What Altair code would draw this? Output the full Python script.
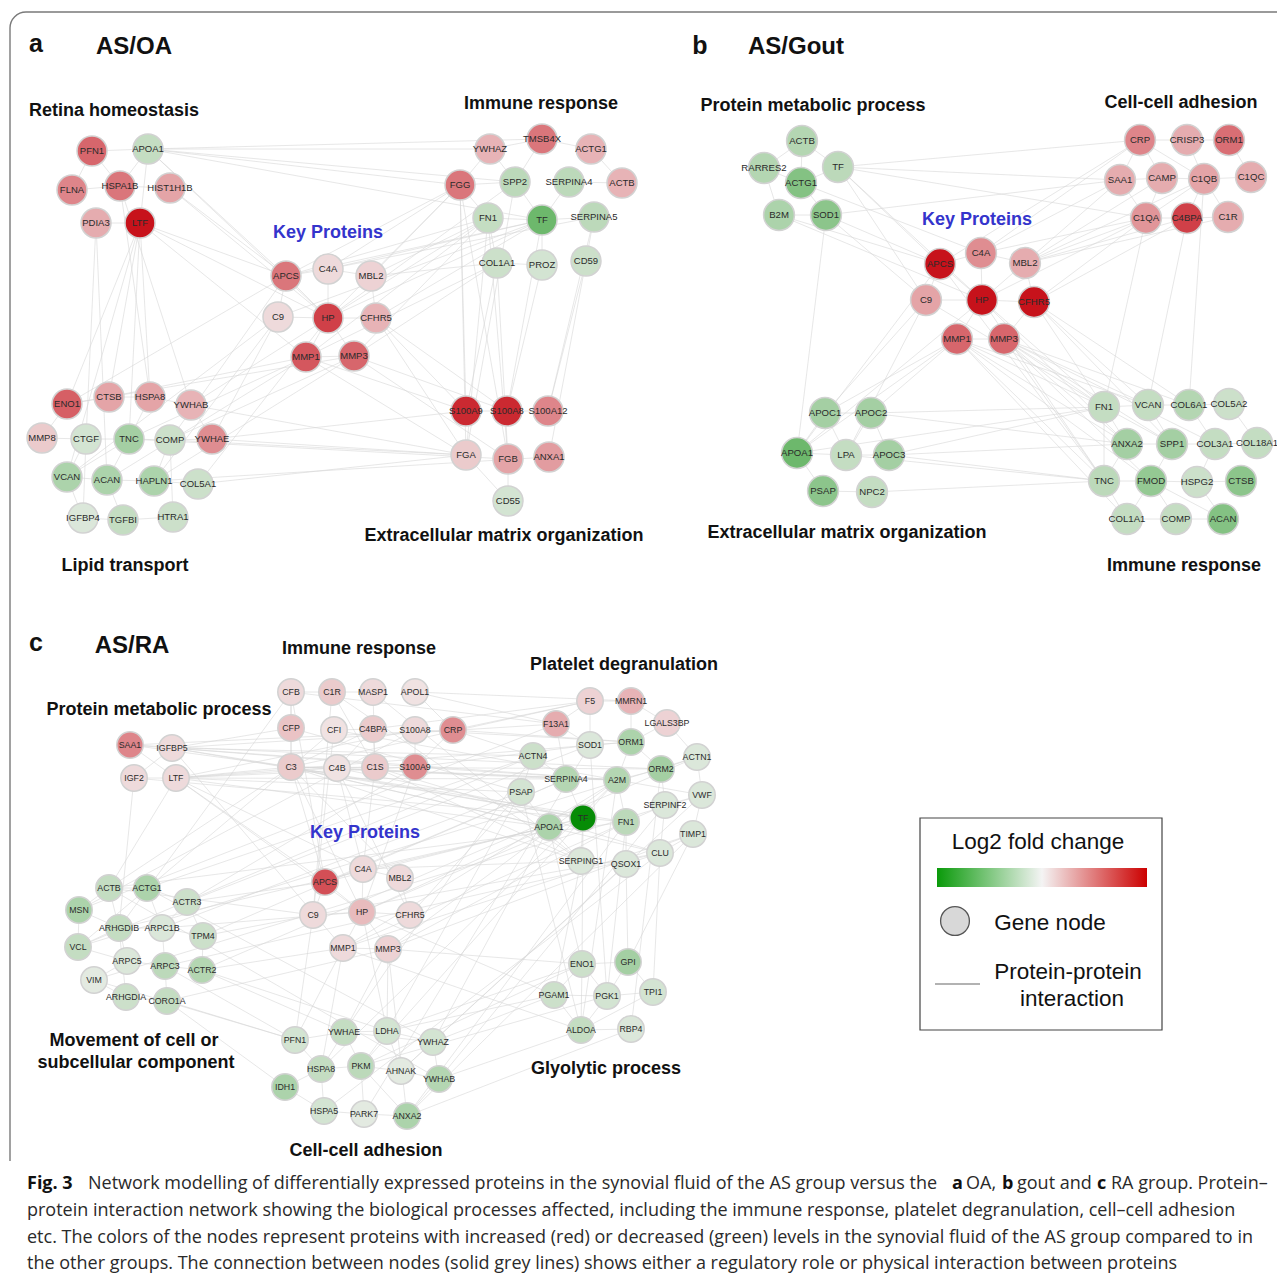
import altair as alt
import pandas as pd

# ---------------- Panel a : AS/OA ----------------
a_names = ["PFN1", "APOA1", "FLNA", "HSPA1B", "HIST1H1B", "PDIA3", "LTF",
           "YWHAZ", "TMSB4X", "ACTG1", "FGG", "SPP2", "SERPINA4", "ACTB", "FN1", "TF", "SERPINA5",
           "COL1A1", "PROZ", "CD59",
           "APCS", "C4A", "MBL2", "C9", "HP", "CFHR5", "MMP1", "MMP3",
           "ENO1", "CTSB", "HSPA8", "YWHAB", "MMP8", "CTGF", "TNC", "COMP", "YWHAE", "VCAN", "ACAN",
           "HAPLN1", "COL5A1", "IGFBP4", "TGFBI", "HTRA1",
           "S100A9", "S100A8", "S100A12", "FGA", "FGB", "ANXA1", "CD55"]
a_x = [92, 148, 72, 120, 170, 96, 140,
       490, 542, 591, 460, 515, 569, 622, 488, 542, 594, 497, 542, 586,
       286, 328, 371, 278, 328, 376, 306, 354,
       67, 109, 150, 191, 42, 86, 129, 170, 212, 67, 107, 154, 198, 83, 123, 173,
       466, 507, 548, 466, 508, 549, 508]
a_y = [151, 149, 190, 186, 188, 223, 223,
       149, 139, 149, 185, 182, 182, 183, 218, 220, 217, 263, 265, 261,
       276, 269, 276, 317, 318, 318, 357, 356,
       404, 397, 397, 405, 438, 439, 439, 440, 439, 477, 480, 481, 484, 518, 520, 517,
       411, 411, 411, 455, 459, 457, 501]
a_fc = [1.8, -0.6, 1.4, 1.6, 1.0, 0.9, 2.9,
        0.8, 1.6, 0.8, 1.6, -0.7, -0.7, 0.8, -0.6, -1.7, -0.7, -0.5, -0.4, -0.5,
        1.6, 0.3, 0.4, 0.3, 2.3, 0.8, 2.0, 1.8,
        1.9, 1.0, 1.0, 0.8, 0.5, -0.4, -1.0, -0.5, 1.3, -0.9, -0.9, -0.9, -0.5, -0.3, -0.6, -0.5,
        2.6, 2.6, 1.4, 0.5, 1.0, 1.1, -0.4]
a_edges = [
    "PFN1-APOA1 PFN1-FLNA FLNA-HSPA1B HSPA1B-HIST1H1B PDIA3-LTF PFN1-HSPA1B APOA1-HSPA1B APOA1-LTF",
    "APOA1-FGG APOA1-YWHAZ APOA1-TF APOA1-SPP2 APOA1-APCS APOA1-HP APOA1-TMSB4X HIST1H1B-APCS HIST1H1B-HP",
    "LTF-ENO1 LTF-CTSB LTF-HSPA8 LTF-TNC LTF-VCAN LTF-APCS LTF-HP LTF-MMP1 PDIA3-CTGF PDIA3-ACAN",
    "HSPA1B-HSPA8 HSPA1B-YWHAB APCS-FGG APCS-FN1 APCS-TF C4A-FGG C4A-TF C4A-SERPINA5 MBL2-FN1 MBL2-FGG",
    "MBL2-COL1A1 HP-FGG HP-TF HP-SPP2 HP-FN1 CFHR5-TF CFHR5-S100A9 CFHR5-FGA CFHR5-S100A8 MMP1-COL1A1",
    "MMP1-FN1 MMP1-S100A9 MMP1-FGA MMP3-FN1 MMP3-S100A8 MMP3-FGB MMP3-COL1A1 C9-TF C9-YWHAE APCS-ENO1",
    "APCS-COMP C9-VCAN C9-HAPLN1 HP-YWHAB MMP1-TNC MMP1-ACAN MMP3-COMP MMP3-HAPLN1 HP-COL5A1 MMP1-CTSB",
    "MMP3-ENO1 YWHAB-FGA YWHAE-FGA COL5A1-FGA COMP-FGA YWHAE-S100A9 HAPLN1-ANXA1 TNC-FGB",
    "FGG-FGA FGG-FGB FGG-S100A9 FN1-FGA FN1-FGB TF-S100A8 COL1A1-S100A9 COL1A1-FGB SERPINA5-S100A12",
    "CD59-ANXA1 PROZ-S100A8 SPP2-FGA CD59-S100A12 FGA-CD55 FGB-CD55 S100A9-S100A8 S100A8-S100A12",
    "YWHAZ-TMSB4X TMSB4X-ACTG1 ACTG1-ACTB FGG-FN1 FN1-TF SPP2-TF TF-SERPINA4 TF-SERPINA5 FN1-COL1A1",
    "COL1A1-PROZ TF-PROZ SERPINA5-CD59 FGG-SPP2 YWHAZ-FGG TMSB4X-SPP2 ACTB-SERPINA4 YWHAZ-SPP2",
    "ENO1-CTSB CTSB-HSPA8 HSPA8-YWHAB YWHAB-YWHAE MMP8-CTGF CTGF-TNC TNC-COMP COMP-YWHAE VCAN-ACAN",
    "ACAN-HAPLN1 HAPLN1-COL5A1 IGFBP4-TGFBI TGFBI-HTRA1 VCAN-TNC ACAN-TGFBI CTGF-IGFBP4 COMP-HAPLN1",
    "ENO1-MMP8 TNC-ACAN CTGF-VCAN HSPA8-TNC COMP-HTRA1 VCAN-IGFBP4",
    "APCS-C4A C4A-MBL2 APCS-C9 C9-HP HP-CFHR5 HP-MMP1 MMP1-MMP3 APCS-HP C4A-HP MBL2-CFHR5 HP-MMP3",
]

# ---------------- Panel b : AS/Gout ----------------
b_names = ["ACTB", "RARRES2", "TF", "ACTG1", "B2M", "SOD1",
           "CRP", "CRISP3", "ORM1", "SAA1", "CAMP", "C1QB", "C1QC", "C1QA", "C4BPA", "C1R",
           "APCS", "C4A", "MBL2", "C9", "HP", "CFHR5", "MMP1", "MMP3",
           "APOC1", "APOC2", "APOA1", "LPA", "APOC3", "PSAP", "NPC2",
           "FN1", "VCAN", "COL6A1", "COL5A2", "ANXA2", "SPP1", "COL3A1", "COL18A1", "TNC", "FMOD",
           "HSPG2", "CTSB", "COL1A1", "COMP", "ACAN"]
b_x = [802, 764, 838, 801, 779, 826,
       1140, 1187, 1229, 1120, 1162, 1204, 1251, 1146, 1187, 1228,
       940, 981, 1025, 926, 982, 1034, 957, 1004,
       825, 871, 797, 846, 889, 823, 872,
       1104, 1148, 1189, 1229, 1127, 1172, 1215, 1257, 1104, 1151, 1197, 1241, 1127, 1176, 1223]
b_y = [141, 168, 167, 183, 215, 215,
       140, 140, 140, 180, 178, 179, 177, 218, 218, 217,
       264, 253, 263, 300, 300, 302, 339, 339,
       413, 413, 453, 455, 455, 491, 492,
       407, 405, 405, 404, 444, 444, 444, 443, 481, 481, 482, 481, 519, 519, 519]
b_fc = [-0.8, -0.8, -0.7, -1.4, -0.9, -1.3,
        1.4, 0.9, 1.7, 0.9, 0.9, 1.0, 0.9, 1.2, 2.3, 0.9,
        2.9, 1.3, 0.9, 1.0, 2.9, 2.9, 1.8, 1.8,
        -1.0, -1.0, -1.7, -0.6, -1.0, -1.3, -0.6,
        -0.6, -0.6, -0.8, -0.5, -1.0, -1.0, -0.6, -0.6, -0.7, -1.2, -0.5, -1.3, -0.6, -0.6, -1.4]
b_edges = [
    "TF-APCS TF-HP TF-C9 SOD1-APCS SOD1-C9 B2M-APCS B2M-HP ACTG1-C4A SOD1-APOA1 ACTB-TF RARRES2-ACTG1",
    "ACTG1-SOD1 B2M-SOD1 ACTB-ACTG1 TF-ACTG1 TF-SAA1 TF-CRP SOD1-SAA1 TF-C1QA RARRES2-ACTB RARRES2-B2M",
    "C4A-SAA1 C4A-C1QA MBL2-C1QA MBL2-CAMP MBL2-C1QB HP-C1QA CFHR5-C4BPA CFHR5-C1QA APCS-CRP HP-SAA1",
    "MBL2-C4BPA C4A-CRP MBL2-C1R MMP1-FN1 MMP1-VCAN MMP1-ANXA2 MMP3-FN1 MMP3-COL6A1 MMP3-TNC MMP3-VCAN",
    "MMP3-SPP1 MMP1-TNC CFHR5-FN1 HP-FN1 MMP3-FMOD MMP1-COL1A1 MMP3-ANXA2 CFHR5-VCAN MMP1-APOC1",
    "MMP1-APOC2 HP-APOA1 APCS-APOA1 C9-APOC1 MMP1-APOA1 C9-LPA APOC2-FN1 APOC3-FN1 APOC3-TNC",
    "APOC3-ANXA2 NPC2-TNC APOA1-FN1 LPA-TNC APOC2-ANXA2 C1QA-FN1 C4BPA-VCAN C1QB-COL6A1",
    "HP-TNC HP-ANXA2 CFHR5-SPP1 CFHR5-COL6A1 MMP1-FMOD MMP3-COL3A1 C9-FN1 APCS-TNC",
    "APOC1-APOC2 APOC1-APOA1 APOA1-LPA LPA-APOC3 APOA1-PSAP PSAP-NPC2 APOC1-LPA APOC2-LPA APOC2-APOC3",
    "CRP-CRISP3 CRISP3-ORM1 SAA1-CAMP CAMP-C1QB C1QB-C1QC C1QA-C4BPA C4BPA-C1R CRP-SAA1 CRP-CAMP",
    "C1QA-C1QB C1QB-C1R C1QB-C4BPA ORM1-C1QC CRP-C1QB CAMP-C1QA CRISP3-C1QB SAA1-C1QA",
    "FN1-VCAN VCAN-COL6A1 COL6A1-COL5A2 ANXA2-SPP1 SPP1-COL3A1 COL3A1-COL18A1 TNC-FMOD FMOD-HSPG2",
    "HSPG2-CTSB COL1A1-COMP COMP-ACAN FN1-ANXA2 FN1-TNC SPP1-FMOD COL3A1-HSPG2 COL1A1-FMOD COMP-FMOD",
    "VCAN-SPP1 COL6A1-COL3A1 FN1-SPP1 TNC-COL1A1 FMOD-ACAN HSPG2-ACAN TNC-ANXA2 COL5A2-COL18A1",
    "APCS-C4A C4A-MBL2 APCS-HP HP-CFHR5 C9-HP HP-MMP1 MMP1-MMP3 MMP3-CFHR5 C4A-HP APCS-C9 MBL2-CFHR5",
]

# ---------------- Panel c : AS/RA ----------------
c_names = ["CFB", "C1R", "MASP1", "APOL1", "CFP", "CFI", "C4BPA", "S100A8", "CRP", "C3", "C4B", "C1S", "S100A9",
           "SAA1", "IGFBP5", "IGF2", "LTF",
           "F5", "MMRN1", "F13A1", "LGALS3BP", "SOD1", "ORM1", "ACTN4", "ACTN1", "ORM2", "SERPINA4", "A2M",
           "PSAP", "VWF", "SERPINF2", "APOA1", "TF", "FN1", "TIMP1", "CLU", "SERPING1", "QSOX1",
           "C4A", "APCS", "MBL2", "C9", "HP", "CFHR5", "MMP1", "MMP3",
           "ACTB", "ACTG1", "ACTR3", "MSN", "ARHGDIB", "ARPC1B", "TPM4", "VCL", "ARPC5", "ARPC3", "ACTR2",
           "VIM", "ARHGDIA", "CORO1A",
           "PFN1", "YWHAE", "LDHA", "YWHAZ", "HSPA8", "PKM", "AHNAK", "YWHAB", "IDH1", "HSPA5", "PARK7", "ANXA2",
           "ENO1", "GPI", "PGAM1", "PGK1", "TPI1", "ALDOA", "RBP4"]
c_x = [291, 332, 373, 415, 291, 334, 373, 415, 453, 291, 337, 375, 415,
       130, 172, 134, 176,
       590, 631, 556, 667, 590, 631, 533, 697, 661, 566, 617, 521, 702, 665, 549, 583, 626, 693, 660, 581, 626,
       363, 325, 400, 313, 362, 410, 343, 388,
       109, 147, 187, 79, 119, 162, 203, 78, 127, 165, 202, 94, 126, 167,
       295, 344, 387, 433, 321, 361, 401, 439, 285, 324, 364, 407,
       582, 628, 554, 607, 653, 581, 631]
c_y = [692, 692, 692, 692, 728, 730, 729, 730, 730, 767, 768, 767, 767,
       745, 748, 778, 778,
       701, 701, 724, 723, 745, 742, 756, 757, 769, 779, 780, 792, 795, 805, 827, 818, 822, 834, 853, 861, 864,
       869, 882, 878, 915, 912, 915, 948, 949,
       888, 888, 902, 910, 928, 928, 936, 947, 961, 966, 970, 980, 997, 1001,
       1040, 1032, 1031, 1042, 1069, 1066, 1071, 1079, 1087, 1111, 1114, 1116,
       964, 962, 995, 996, 992, 1030, 1029]
c_fc = [0.3, 0.5, 0.3, 0.2, 0.6, 0.2, 0.5, 0.3, 1.3, 0.5, 0.2, 0.5, 1.3,
        1.4, 0.3, 0.3, 0.3,
        0.4, 0.8, 0.9, 0.4, -0.3, -0.9, -0.5, -0.3, -1.0, -0.8, -0.8, -0.4, -0.3, -0.3, -0.9, -3.0, -0.7,
        -0.3, -0.3, -0.3, -0.3,
        0.3, 2.1, 0.3, 0.3, 0.7, 0.3, 0.3, 0.4,
        -0.6, -0.9, -0.5, -0.9, -0.6, -0.3, -0.5, -0.6, -0.3, -0.7, -0.8, -0.2, -0.5, -0.6,
        -0.4, -0.6, -0.4, -0.4, -0.6, -0.7, -0.2, -0.8, -0.9, -0.4, -0.2, -0.9,
        -0.5, -1.0, -0.5, -0.4, -0.4, -0.6, -0.3]
c_edges = [
    "IGFBP5-C3 IGFBP5-CFP LTF-C3 LTF-C4B LTF-S100A9 IGFBP5-S100A9 SAA1-CRP LTF-S100A8 SAA1-C3 IGF2-IGFBP5",
    "SAA1-IGFBP5 IGF2-LTF SAA1-LTF IGFBP5-F13A1 IGFBP5-ACTN4 LTF-SERPINA4 LTF-PSAP IGFBP5-A2M LTF-APOA1",
    "IGF2-TF IGFBP5-TF LTF-ORM1 SAA1-ORM2 LTF-APCS LTF-HP IGF2-ARHGDIB LTF-ACTB LTF-C4A IGFBP5-MMP1",
    "CFB-CFP CFB-C1R C1R-MASP1 C1R-C1S CFP-C3 CFI-C3 C3-C4B C4B-C1S C4BPA-C4B C1S-MASP1 S100A8-S100A9",
    "CRP-S100A9 C3-C4BPA CFB-C3 C4BPA-C1S APOL1-CRP CFI-C4BPA C3-A2M C3-SERPINA4 C3-TF C3-APOA1 C3-F5",
    "C3-SERPING1 CFB-F13A1 C1R-SERPING1 C1S-SERPING1 C4BPA-F5 S100A8-ORM1 S100A9-SOD1 CRP-ORM1",
    "CRP-ACTN4 APOL1-F13A1 S100A9-A2M C4B-A2M C3-CLU C1S-CLU CFP-PSAP C3-FN1 C4B-TF CRP-F5 APOL1-MMRN1",
    "MASP1-SERPING1 C3-ORM2 CFI-VWF C3-APCS C3-HP C4B-C4A C1S-C4A CFB-APCS C3-MBL2 C1R-C9 CFI-C9",
    "C4B-CFHR5 S100A9-HP C3-ACTB CFB-ARHGDIB C3-VCL S100A9-ACTR3 S100A8-MSN",
    "TF-HP TF-APCS APOA1-C4A A2M-MMP1 A2M-MMP3 FN1-MMP1 FN1-MMP3 SERPING1-C4A CLU-C9 APOA1-HP TIMP1-MMP1",
    "TIMP1-MMP3 SERPINA4-APCS PSAP-CFHR5 FN1-ACTB ACTN4-ACTG1 ACTN1-ACTR2 ACTN4-VCL VWF-VIM SERPINA4-TPM4",
    "PSAP-ARPC1B ACTN1-VCL SOD1-ACTR3 APOA1-ARHGDIB F13A1-MSN CLU-ARPC3 SOD1-PARK7 A2M-HSPA8 FN1-ANXA2",
    "TF-PKM APOA1-YWHAZ SERPINF2-YWHAB CLU-HSPA5 ACTN4-YWHAE QSOX1-AHNAK PSAP-LDHA TIMP1-ANXA2 VWF-AHNAK",
    "TF-ENO1 APOA1-ENO1 SERPING1-PGAM1 QSOX1-GPI CLU-TPI1 FN1-PGK1 A2M-ALDOA SOD1-PGK1 PSAP-ALDOA",
    "ORM2-RBP4 TIMP1-GPI F5-MMRN1 F5-F13A1 MMRN1-LGALS3BP F13A1-SOD1 SOD1-ORM1 ORM1-ORM2 ACTN4-SERPINA4",
    "SERPINA4-A2M A2M-ORM2 PSAP-APOA1 APOA1-TF TF-FN1 FN1-SERPINF2 SERPINF2-VWF VWF-TIMP1 TIMP1-CLU",
    "CLU-QSOX1 QSOX1-SERPING1 SERPING1-APOA1 TF-A2M A2M-FN1 ORM1-A2M ACTN1-ORM2 SERPINA4-TF F5-SOD1",
    "MMRN1-ORM1 LGALS3BP-ACTN1 SERPINF2-CLU TF-SERPING1 FN1-QSOX1 ACTN4-PSAP F13A1-SERPINA4",
    "LGALS3BP-ORM1 ORM2-SERPINF2 ACTN1-VWF",
    "APCS-C4A C4A-MBL2 APCS-C9 C9-HP HP-CFHR5 HP-MMP1 MMP1-MMP3 HP-MMP3 APCS-HP C4A-HP MBL2-CFHR5",
    "APCS-ACTR3 C9-TPM4 HP-ARPC1B MMP1-ACTR2 MMP3-CORO1A C9-ACTB MMP1-PFN1 MMP3-YWHAE MMP1-HSPA8",
    "HP-LDHA MMP3-ANXA2 C9-PFN1 MMP3-LDHA MMP3-ENO1 HP-PGAM1 MMP1-ALDOA",
    "ACTB-ACTG1 ACTG1-ACTR3 MSN-ACTB MSN-VCL ARHGDIB-ARPC1B ARPC1B-TPM4 VCL-ARPC5 ARPC5-ARPC3",
    "ARPC3-ACTR2 VIM-ARHGDIA ARHGDIA-CORO1A ARHGDIB-VCL ARPC1B-ARPC3 ACTR3-ARPC1B ACTR2-TPM4",
    "ARHGDIB-ARPC5 ACTB-ARHGDIB VIM-ARPC5 ARPC3-CORO1A ACTG1-ARPC1B MSN-ARHGDIB ACTR3-TPM4 ARHGDIA-ARHGDIB",
    "CORO1A-PFN1 ACTR2-YWHAE ARPC3-PFN1 CORO1A-IDH1 ACTR2-LDHA VIM-PFN1 ACTG1-YWHAZ ACTB-YWHAB",
    "PFN1-YWHAE YWHAE-LDHA LDHA-YWHAZ PFN1-HSPA8 HSPA8-PKM PKM-AHNAK AHNAK-YWHAB YWHAZ-YWHAB IDH1-HSPA8",
    "HSPA8-HSPA5 HSPA5-PARK7 PARK7-ANXA2 ANXA2-YWHAB YWHAE-PKM LDHA-PKM IDH1-HSPA5 PKM-PARK7",
    "YWHAE-YWHAZ LDHA-AHNAK HSPA8-YWHAE PKM-ANXA2",
    "LDHA-ENO1 PKM-PGK1 YWHAZ-PGAM1 LDHA-PGAM1 PKM-ENO1 YWHAB-ALDOA ANXA2-RBP4",
    "ENO1-GPI ENO1-PGAM1 ENO1-PGK1 PGAM1-PGK1 PGK1-TPI1 GPI-TPI1 PGAM1-ALDOA PGK1-ALDOA ALDOA-RBP4",
    "GPI-PGK1 ENO1-ALDOA TPI1-ALDOA",
]

# ---------------- Titles ----------------
letter_text = ["a", "b", "c"]
letter_x = [36, 700, 36]
letter_y = [44, 46, 643]
panel_text = ["AS/OA", "AS/Gout", "AS/RA"]
panel_x = [134, 796, 132]
panel_y = [47, 47, 646]
group_text = ["Retina homeostasis", "Immune response", "Lipid transport", "Extracellular matrix organization",
              "Protein metabolic process", "Cell-cell adhesion", "Extracellular matrix organization",
              "Immune response",
              "Immune response", "Protein metabolic process", "Platelet degranulation",
              "Movement of cell or", "subcellular component", "Cell-cell adhesion", "Glyolytic process"]
group_x = [114, 541, 125, 504, 813, 1181, 847, 1184, 359, 159, 624, 134, 136, 366, 606]
group_y = [111, 104, 566, 536, 106, 103, 533, 566, 649, 710, 665, 1041, 1063, 1151, 1069]
key_x = [328, 977, 365]
key_y = [233, 220, 833]

# ---------------- Legend ----------------
legend_text = ["Log2 fold change", "Gene node", "Protein-protein", "interaction"]
legend_x = [1038, 1050, 1068, 1072]
legend_y = [842, 923, 972, 999]
legend_box = [920, 818, 1162, 1030]
legend_bar = [937, 868, 1147, 887]
legend_node = [955, 921]
legend_line = [935, 984, 980]

# ---------------- Caption ----------------
cap_seg_text = ["Fig. 3",
                "Network modelling of differentially expressed proteins in the synovial fluid of the AS group versus the",
                "a", "OA,", "b", "gout and", "c", "RA group. Protein–",
                "protein interaction network showing the biological processes affected, including the immune response, platelet degranulation, cell–cell adhesion",
                "etc. The colors of the nodes represent proteins with increased (red) or decreased (green) levels in the synovial fluid of the AS group compared to in",
                "the other groups. The connection between nodes (solid grey lines) shows either a regulatory role or physical interaction between proteins"]
cap_seg_bold = [True, False, True, False, True, False, True, False, False, False, False]
cap_seg_x = [27, 88, 952, 966, 1002, 1017, 1097, 1111, 27, 27, 27]
cap_seg_y = [1184, 1184, 1184, 1184, 1184, 1184, 1184, 1184, 1211, 1238, 1264]

# ---------------- Frame ----------------
frame_x = [10, 1340]
frame_y = [12, 1400]
frame_end_y = 1161

# =====================================================
def nodes_df(names, xs, ys, fcs):
    return pd.DataFrame({"name": names, "x": xs, "y": ys, "fc": fcs})


def edges_df(names, xs, ys, edge_lines):
    pos = {n: (x, y) for n, x, y in zip(names, xs, ys)}
    rows = []
    for line in edge_lines:
        for tok in line.split():
            s, t = tok.split("-")
            if s in pos and t in pos:
                rows.append({"x": pos[s][0], "y": pos[s][1], "x2": pos[t][0], "y2": pos[t][1]})
    return pd.DataFrame(rows)


W, H = 1269, 1266
X = alt.Scale(domain=[8, 8 + W], nice=False, zero=False)
Y = alt.Scale(domain=[8, 8 + H], nice=False, zero=False, reverse=True)
xe = alt.X("x:Q", scale=X, axis=None)
ye = alt.Y("y:Q", scale=Y, axis=None)
C = alt.Color("fc:Q", scale=alt.Scale(domain=[-3, 0, 3], range=["#068c06", "#f3f1f1", "#c50a14"],
                                      interpolate="rgb"), legend=None)

edges = pd.concat([edges_df(a_names, a_x, a_y, a_edges),
                   edges_df(b_names, b_x, b_y, b_edges),
                   edges_df(c_names, c_x, c_y, c_edges)], ignore_index=True)

layers = []

frame = alt.Chart(pd.DataFrame({"x": [frame_x[0]], "x2": [frame_x[1]], "y": [frame_y[0]], "y2": [frame_y[1]]})).mark_rect(
    fill=None, filled=False, stroke="#7a7a7a", strokeWidth=1.4, cornerRadius=16).encode(
    x=xe, x2="x2:Q", y=ye, y2="y2:Q")
frame_cover = alt.Chart(pd.DataFrame({"x": [0], "x2": [20], "y": [frame_end_y], "y2": [frame_y[1]]})).mark_rect(
    color="white").encode(x=xe, x2="x2:Q", y=ye, y2="y2:Q")
layers += [frame, frame_cover]

layers.append(alt.Chart(edges).mark_rule(color="#d6d6d6", strokeWidth=0.7, opacity=0.85).encode(
    x=xe, y=ye, x2="x2:Q", y2="y2:Q"))

for names, xs, ys, fcs, size, fs in [(a_names, a_x, a_y, a_fc, 900, 9.5),
                                    (b_names, b_x, b_y, b_fc, 950, 9.6),
                                    (c_names, c_x, c_y, c_fc, 700, 8.8)]:
    df = nodes_df(names, xs, ys, fcs)
    layers.append(alt.Chart(df).mark_circle(size=size, opacity=1, stroke="#d2d2d2", strokeWidth=1.5).encode(
        x=xe, y=ye, color=C))
    layers.append(alt.Chart(df).mark_text(font="Liberation Sans", fontSize=fs, color="#2a2a2a",
                                          baseline="middle", align="center").encode(x=xe, y=ye, text="name:N"))

layers.append(alt.Chart(pd.DataFrame({"t": letter_text, "x": letter_x, "y": letter_y})).mark_text(
    font="Liberation Sans", fontWeight="bold", fontSize=25, color="#111", baseline="middle").encode(
    x=xe, y=ye, text="t:N"))
layers.append(alt.Chart(pd.DataFrame({"t": panel_text, "x": panel_x, "y": panel_y})).mark_text(
    font="Liberation Sans", fontWeight="bold", fontSize=24, color="#111", baseline="middle").encode(
    x=xe, y=ye, text="t:N"))
layers.append(alt.Chart(pd.DataFrame({"t": group_text, "x": group_x, "y": group_y})).mark_text(
    font="Liberation Sans", fontWeight="bold", fontSize=18, color="#111", baseline="middle").encode(
    x=xe, y=ye, text="t:N"))
layers.append(alt.Chart(pd.DataFrame({"t": ["Key Proteins"] * 3, "x": key_x, "y": key_y})).mark_text(
    font="Liberation Sans", fontWeight="bold", fontSize=18, color="#3434cc", baseline="middle").encode(
    x=xe, y=ye, text="t:N"))

# legend
layers.append(alt.Chart(pd.DataFrame({"x": [legend_box[0]], "y": [legend_box[1]], "x2": [legend_box[2]],
                                      "y2": [legend_box[3]]})).mark_rect(
    fill="white", stroke="#444", strokeWidth=1.2).encode(x=xe, y=ye, x2="x2:Q", y2="y2:Q"))
layers.append(alt.Chart(pd.DataFrame({"x": [legend_bar[0]], "y": [legend_bar[1]], "x2": [legend_bar[2]],
                                      "y2": [legend_bar[3]]})).mark_rect(
    fill=alt.Gradient(gradient="linear", x1=0, x2=1, y1=0, y2=0,
                      stops=[alt.GradientStop(offset=0, color="#0a9a0a"),
                             alt.GradientStop(offset=0.5, color="#f4f4f4"),
                             alt.GradientStop(offset=1, color="#cc0000")])).encode(
    x=xe, y=ye, x2="x2:Q", y2="y2:Q"))
layers.append(alt.Chart(pd.DataFrame({"x": [legend_node[0]], "y": [legend_node[1]]})).mark_circle(
    size=830, color="#d8d8d8", opacity=1, stroke="#555", strokeWidth=1.3).encode(x=xe, y=ye))
layers.append(alt.Chart(pd.DataFrame({"x": [legend_line[0]], "x2": [legend_line[2]], "y": [legend_line[1]]})).mark_rule(
    color="#666", strokeWidth=1.2).encode(x=xe, x2="x2:Q", y=ye))
layers.append(alt.Chart(pd.DataFrame({"t": legend_text, "x": legend_x, "y": legend_y})).mark_text(
    font="Liberation Sans", fontSize=22.5, color="#111", baseline="middle").encode(x=xe, y=ye, text="t:N"))

# caption
cap = pd.DataFrame({"t": cap_seg_text, "x": cap_seg_x, "y": cap_seg_y, "b": cap_seg_bold})
layers.append(alt.Chart(cap[~cap.b]).mark_text(
    font="Open Sans", fontSize=18, color="#2a2a2a", baseline="middle", align="left").encode(
    x=xe, y=ye, text="t:N"))
layers.append(alt.Chart(cap[cap.b]).mark_text(
    font="Open Sans", fontSize=18, fontWeight="bold", color="#111", baseline="middle", align="left").encode(
    x=xe, y=ye, text="t:N"))

chart = alt.layer(*layers).properties(
    width=W, height=H, padding=0, autosize=alt.AutoSizeParams(type="none")
).configure_view(stroke=None)

chart.save("out.html", embed_options={"renderer": "svg", "actions": False})
